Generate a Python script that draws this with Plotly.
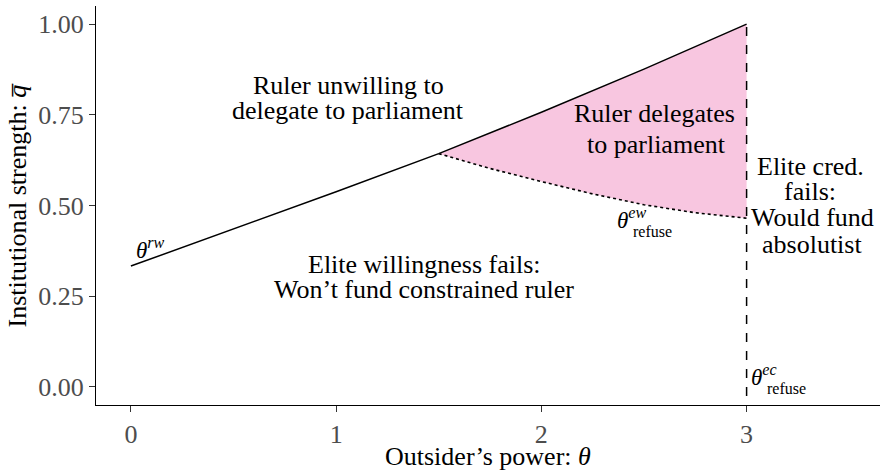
import plotly.graph_objects as go

# Ruler willingness boundary (solid line)
theta_rw = [0.0, 0.5, 1.0, 1.5, 2.0, 2.5, 3.0]
q_rw = [0.333, 0.435, 0.538, 0.643, 0.757, 0.876, 1.0]

# Elite willingness boundary (dotted curve)
theta_ew = [1.5, 1.75, 2.0, 2.25, 2.5, 2.75, 3.0]
q_ew = [0.643, 0.602, 0.566, 0.532, 0.502, 0.480, 0.465]

# Elite credibility threshold (vertical dashed)
theta_ec = [3.0, 3.0]
q_ec = [-0.025, 1.0]

x_ticks = [0, 1, 2, 3]
y_ticks = [0.0, 0.25, 0.5, 0.75, 1.0]
y_tick_labels = ["0.00", "0.25", "0.50", "0.75", "1.00"]

FONT = "Liberation Serif"
PINK = "#F8C6E0"

# pink region polygon: upper part of solid line from 1.5 to 3, back along dotted curve
upper_x = [t for t in theta_rw if t >= 1.5]
upper_y = [q for t, q in zip(theta_rw, q_rw) if t >= 1.5]
poly_x = upper_x + theta_ew[::-1]
poly_y = upper_y + q_ew[::-1]

fig = go.Figure()
fig.add_trace(go.Scatter(x=poly_x, y=poly_y, fill="toself", fillcolor=PINK,
                         line=dict(width=0), mode="lines", hoverinfo="skip"))
fig.add_trace(go.Scatter(x=theta_rw, y=q_rw, mode="lines",
                         line=dict(color="black", width=1.5)))
fig.add_trace(go.Scatter(x=theta_ew, y=q_ew, mode="lines",
                         line=dict(color="black", width=1.6, dash="dot")))
fig.add_trace(go.Scatter(x=theta_ec, y=q_ec, mode="lines",
                         line=dict(color="black", width=1.5, dash="dash")))

ann = []
def txt(x, y, s, size=26, xanchor="center", xshift=0, yshift=0):
    ann.append(dict(x=x, y=y, text=s, showarrow=False, xanchor=xanchor,
                    yanchor="middle", xshift=xshift, yshift=yshift,
                    font=dict(family=FONT, size=size, color="black")))

txt(1.06, 0.832, "Ruler unwilling to")
txt(1.06, 0.763, "delegate to parliament")
txt(2.55, 0.755, "Ruler delegates")
txt(2.56, 0.667, "to parliament")
txt(3.31, 0.607, "Elite cred.")
txt(3.31, 0.538, "fails:")
txt(3.32, 0.466, "Would fund")
txt(3.32, 0.392, "absolutist")
txt(1.43, 0.337, "Elite willingness fails:")
txt(1.43, 0.268, "Won\u2019t fund constrained ruler")

# theta labels
txt(0.015, 0.382, "<i>θ</i><sup><i>rw</i></sup>", size=23, xanchor="left")
txt(2.36, 0.463, "<i>θ</i><sup><i>ew</i></sup>", size=23, xanchor="left")
txt(2.36, 0.428, "refuse", size=16, xanchor="left", xshift=16)
txt(3.01, 0.030, "<i>θ</i><sup><i>ec</i></sup>", size=23, xanchor="left")
txt(3.01, -0.005, "refuse", size=16, xanchor="left", xshift=16)

# axis titles
ann.append(dict(xref="paper", yref="paper", x=0.5, y=-0.128, text="Outsider\u2019s power: <i>θ</i>",
                showarrow=False, xanchor="center", yanchor="middle",
                font=dict(family=FONT, size=26, color="black")))
ann.append(dict(xref="paper", yref="paper", x=-0.0995, y=0.5, text="Institutional strength: <i>q\u0305</i>",
                showarrow=False, xanchor="center", yanchor="middle", textangle=-90,
                font=dict(family=FONT, size=26, color="black")))

fig.update_layout(
    width=882, height=476,
    margin=dict(l=96, r=2, t=6, b=71),
    paper_bgcolor="white", plot_bgcolor="white",
    showlegend=False,
    annotations=ann,
    font=dict(family=FONT),
    xaxis=dict(range=[-0.17, 3.65], tickvals=x_ticks, ticktext=[str(v) for v in x_ticks],
               automargin=False,
               showgrid=False, zeroline=False, showline=True, linecolor="black", linewidth=1.2,
               ticks="outside", ticklen=6, tickcolor="#333333", tickwidth=1.2,
               tickfont=dict(family=FONT, size=26, color="#4D4D4D")),
    yaxis=dict(range=[-0.05, 1.05], tickvals=y_ticks, ticktext=y_tick_labels,
               automargin=False,
               showgrid=False, zeroline=False, showline=True, linecolor="black", linewidth=1.2,
               ticks="outside", ticklen=6, tickcolor="#333333", tickwidth=1.2,
               tickfont=dict(family=FONT, size=26, color="#4D4D4D")),
)

fig.write_html("out.html", config={"displayModeBar": False},
               post_script="document.body.style.margin='0';document.body.style.overflow='hidden';")
